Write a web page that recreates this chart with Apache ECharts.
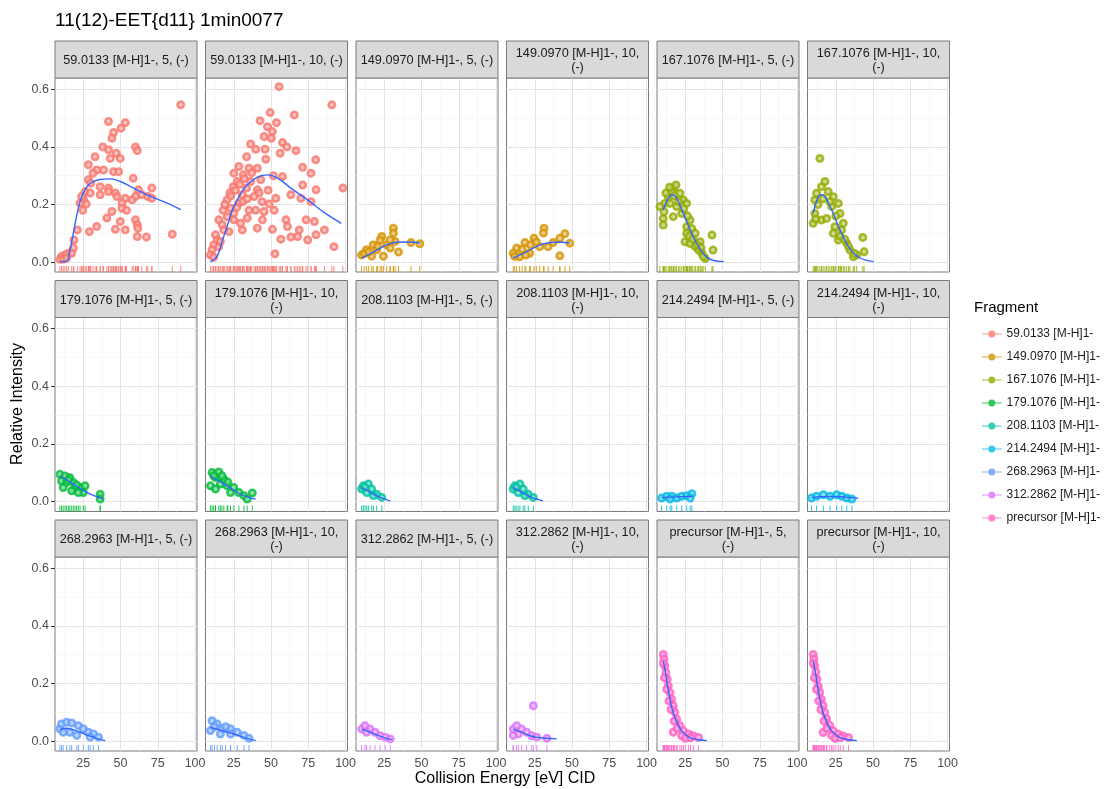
<!DOCTYPE html>
<html>
<head>
<meta charset="utf-8">
<script src="https://cdn.jsdelivr.net/npm/echarts@6/dist/echarts.min.js"></script>
<style>
html, body { margin: 0; padding: 0; background: #fff; }
#chart { width: 1107px; height: 789px; }
</style>
</head>
<body>
<div id="chart"></div>
<script>
// facet data
const fragments = [
  '59.0133 [M-H]1-', '149.0970 [M-H]1-', '167.1076 [M-H]1-', '179.1076 [M-H]1-',
  '208.1103 [M-H]1-', '214.2494 [M-H]1-', '268.2963 [M-H]1-', '312.2862 [M-H]1-',
  'precursor [M-H]1-'
]
const collisionSteps = [5, 10]
const stripLabels = [
  '59.0133 [M-H]1-, 5, (-)', '59.0133 [M-H]1-, 10, (-)',
  '149.0970 [M-H]1-, 5, (-)', '149.0970 [M-H]1-, 10,\n(-)',
  '167.1076 [M-H]1-, 5, (-)', '167.1076 [M-H]1-, 10,\n(-)',
  '179.1076 [M-H]1-, 5, (-)', '179.1076 [M-H]1-, 10,\n(-)',
  '208.1103 [M-H]1-, 5, (-)', '208.1103 [M-H]1-, 10,\n(-)',
  '214.2494 [M-H]1-, 5, (-)', '214.2494 [M-H]1-, 10,\n(-)',
  '268.2963 [M-H]1-, 5, (-)', '268.2963 [M-H]1-, 10,\n(-)',
  '312.2862 [M-H]1-, 5, (-)', '312.2862 [M-H]1-, 10,\n(-)',
  'precursor [M-H]1-, 5,\n(-)', 'precursor [M-H]1-, 10,\n(-)'
]
const xTicks = [25, 50, 75, 100]
const xMinorTicks = [12.5, 37.5, 62.5, 87.5]
const yTicks = [0, 0.2, 0.4, 0.6]
const yMinorTicks = [0.1, 0.3, 0.5]

const points_59_5 = [[90.4,0.546],[41.9,0.488],[53.2,0.484],[50.3,0.465],[45.3,0.45],[44.2,0.43],[60,0.40],[61.2,0.387],[38.1,0.40],[41.9,0.39],[47.1,0.378],[32.9,0.366],[43.1,0.36],[49.8,0.36],[28.4,0.338],[34,0.32],[38.6,0.32],[45.3,0.314],[48.7,0.314],[31.5,0.309],[58.5,0.291],[28.4,0.286],[30,0.274],[36.3,0.262],[41.9,0.257],[41.9,0.245],[46.5,0.24],[26.2,0.245],[29.6,0.24],[71,0.257],[62,0.251],[64.2,0.234],[68.3,0.228],[71,0.222],[60,0.228],[57.7,0.216],[25.2,0.216],[27,0.202],[47.6,0.228],[53.2,0.222],[51,0.205],[36.3,0.234],[24.6,0.18],[44.2,0.176],[51,0.187],[54,0.18],[40.8,0.153],[60,0.147],[49.8,0.141],[61.2,0.13],[61.6,0.118],[34,0.124],[29.1,0.106],[46.5,0.114],[53.2,0.112],[61.2,0.089],[67.4,0.087],[84.7,0.097],[21,0.112],[18.7,0.077],[18.3,0.049],[14.9,0.031],[12.7,0.025],[10.4,0.02],[9.3,0.01],[11.5,0.01],[13.8,0.014],[17.2,0.031],[22.8,0.205],[23.9,0.228]]
const fit_59_5 = [[9.3,0.002],[13.8,0.004],[16,0.04],[18.3,0.1],[20.5,0.16],[22.8,0.21],[25.5,0.245],[28.4,0.268],[32,0.28],[36.3,0.287],[43.1,0.289],[49.8,0.28],[58.8,0.257],[70,0.228],[81.4,0.205],[90.4,0.182]]

const points_59_10 = [[55.4,0.609],[90.8,0.546],[65.6,0.511],[49.4,0.519],[42.6,0.491],[47.6,0.47],[53.6,0.484],[50.9,0.453],[50.2,0.43],[45.3,0.436],[57.7,0.415],[60.6,0.40],[66.7,0.387],[56.1,0.378],[36.3,0.41],[39.7,0.392],[46,0.392],[33.6,0.366],[46.5,0.357],[80,0.355],[28.4,0.332],[35.2,0.326],[40.8,0.326],[71.2,0.329],[76.8,0.309],[25,0.309],[31.3,0.303],[51.6,0.30],[57.7,0.297],[27.3,0.28],[36.3,0.28],[43.1,0.286],[24.6,0.262],[33.6,0.257],[40.8,0.251],[71.2,0.268],[80.2,0.251],[98.2,0.257],[22.3,0.24],[30.7,0.234],[38.6,0.228],[63.3,0.234],[70,0.222],[76.8,0.21],[53.2,0.222],[20.5,0.216],[28.4,0.205],[48.7,0.202],[22.8,0.187],[35.2,0.18],[39.7,0.18],[52.1,0.18],[45.3,0.176],[17.8,0.18],[20.5,0.158],[25,0.147],[34,0.153],[44.2,0.147],[60,0.147],[73.5,0.147],[79.1,0.141],[14.9,0.147],[17.2,0.13],[29.5,0.135],[40.8,0.118],[50.9,0.114],[61,0.124],[68.9,0.112],[85.8,0.112],[21.7,0.106],[30.7,0.112],[56.6,0.08],[63.3,0.087],[67.8,0.089],[74.6,0.077],[80.2,0.095],[92.2,0.054],[52.6,0.029],[12.7,0.095],[13.8,0.077],[11.5,0.06],[10.4,0.043],[9.3,0.025],[11.5,0.017],[14.9,0.054],[16,0.072],[25,0.17],[18.3,0.112],[19,0.2],[23,0.23],[26,0.25],[29,0.27],[32,0.29],[37,0.31],[27,0.19],[31,0.21],[34,0.22],[42,0.24],[44,0.21],[48,0.25]]
const fit_59_10 = [[9.3,0.002],[13.8,0.02],[17,0.07],[20.5,0.124],[24,0.18],[27.3,0.216],[30.5,0.245],[34,0.268],[40.8,0.295],[47.6,0.303],[54.3,0.292],[63.3,0.257],[74.6,0.216],[85.8,0.172],[97.1,0.135]]

const points_149_5 = [[31.1,0.118],[31.1,0.101],[23.3,0.089],[32.2,0.072],[17.6,0.06],[26.6,0.06],[13.1,0.043],[9.7,0.025],[19.9,0.043],[28.9,0.049],[34.5,0.035],[24.4,0.021],[16.5,0.021],[42.9,0.068],[48.8,0.064],[22.2,0.077],[28.9,0.077],[11.5,0.03],[14.5,0.035],[20.5,0.055]]
const fit_149_5 = [[9.7,0.014],[13.5,0.024],[17.6,0.035],[22,0.048],[26.6,0.06],[30,0.066],[33.4,0.069],[40.1,0.07],[45,0.069],[49.1,0.066]]

const points_149_10 = [[31.2,0.118],[30.8,0.101],[24.5,0.083],[18.4,0.068],[12.8,0.049],[10.5,0.031],[45.2,0.099],[41.8,0.083],[48.5,0.066],[41.8,0.022],[28.3,0.054],[33.9,0.054],[21.5,0.031],[14.8,0.019],[37.3,0.068],[16.5,0.045],[22,0.06],[26,0.07],[11.5,0.02],[19,0.025]]
const fit_149_10 = [[10.5,0.014],[15,0.025],[19.5,0.037],[24,0.049],[28.5,0.06],[33,0.066],[37.5,0.069],[43,0.069],[48.5,0.066]]

const points_167_5 = [[10.2,0.129],[10.2,0.152],[10.7,0.175],[11.3,0.204],[13.5,0.227],[16.9,0.256],[18.7,0.268],[15.8,0.245],[21.4,0.239],[23.7,0.216],[25.9,0.204],[19.2,0.193],[22.6,0.169],[16.9,0.158],[28.2,0.146],[25.9,0.123],[29.3,0.117],[31.6,0.1],[25.9,0.1],[24.8,0.071],[28.2,0.065],[31.6,0.054],[33.9,0.042],[36.2,0.031],[38.4,0.013],[42.9,0.094],[43.6,0.042],[34.9,0.071],[8,0.193],[14.7,0.204],[12,0.24],[14.5,0.26],[17.5,0.23],[20.5,0.21],[24,0.185],[26.5,0.16],[27.5,0.09],[30,0.08],[33,0.06],[35.5,0.05],[37,0.02]]
const fit_167_5 = [[10.2,0.181],[12.5,0.212],[15.8,0.233],[17.5,0.232],[19.2,0.222],[21.5,0.196],[23.7,0.169],[26.5,0.134],[29.3,0.1],[32,0.07],[34.9,0.046],[37.5,0.027],[40,0.015],[44,0.006],[50.8,0.002]]

const points_167_10 = [[14.3,0.36],[10.9,0.216],[12.1,0.239],[15.4,0.262],[17.7,0.28],[19.9,0.245],[23.3,0.227],[26.7,0.204],[22.2,0.193],[10.9,0.169],[9.8,0.135],[15.4,0.146],[18.8,0.152],[27.8,0.169],[24.4,0.123],[28.9,0.112],[26.7,0.077],[32.3,0.066],[34.5,0.042],[39,0.025],[43.1,0.086],[44,0.036],[36.7,0.019],[23.3,0.1],[30,0.135],[13,0.2],[16.5,0.22],[21,0.21],[25,0.16],[28,0.09],[31,0.08],[33.5,0.055],[37.5,0.03],[11.5,0.15]]
const fit_167_10 = [[9.8,0.169],[12,0.21],[14.3,0.233],[16,0.234],[17.7,0.227],[20.5,0.2],[23.3,0.169],[26,0.134],[28.9,0.1],[31.7,0.07],[34.5,0.046],[37.3,0.03],[40.1,0.018],[45,0.007],[50.3,0.002]]

const points_179_5 = [[9.3,0.095],[12.7,0.089],[16,0.083],[10.4,0.072],[13.8,0.067],[18.3,0.067],[19.4,0.049],[22.8,0.049],[26.2,0.055],[25,0.032],[11.5,0.049],[17.2,0.038],[36.3,0.026],[36.3,0.009],[21.7,0.032],[15,0.075],[20.5,0.058]]
const fit_179_5 = [[9.3,0.09],[13.8,0.076],[18.3,0.061],[22.8,0.046],[27.3,0.032],[33,0.019],[38.6,0.009]]

const points_179_10 = [[10.4,0.101],[14.9,0.103],[12.7,0.084],[18.3,0.078],[16,0.061],[20.5,0.055],[25,0.049],[22.8,0.032],[28.4,0.032],[31.8,0.021],[37.4,0.03],[34,0.009],[9.3,0.055],[12.7,0.044],[11.5,0.09],[17,0.09],[21,0.068]]
const fit_179_10 = [[9.3,0.09],[15,0.072],[20.5,0.055],[25,0.04],[29.5,0.026],[34.5,0.016],[39.7,0.009]]

const points_208_5 = [[9.8,0.044],[10.9,0.055],[14.3,0.061],[16.5,0.044],[19.9,0.026],[23.3,0.015],[13.2,0.032],[17.7,0.021],[12,0.05]]
const fit_208_5 = [[9.8,0.05],[13.8,0.038],[17.7,0.026],[22,0.016],[26,0.008],[29,0.003]]

const points_208_10 = [[10.5,0.044],[11.6,0.055],[15,0.061],[17.2,0.044],[20.6,0.026],[24,0.015],[13.8,0.032],[18.3,0.021],[12.5,0.05]]
const fit_208_10 = [[10.5,0.05],[14.5,0.038],[18.3,0.026],[22.5,0.016],[27,0.008],[30.5,0.003]]

const points_214_5 = [[9.1,0.013],[12.5,0.019],[15.9,0.019],[19.3,0.013],[22.6,0.019],[26,0.021],[29.4,0.028],[28.3,0.013],[14.8,0.009]]
const fit_214_5 = [[9.1,0.014],[15,0.016],[21,0.017],[26,0.018],[30,0.018]]

const points_214_10 = [[8.7,0.013],[12.1,0.019],[16.6,0.024],[21.1,0.019],[25.6,0.024],[29,0.019],[32.4,0.013],[35.8,0.009]]
const fit_214_10 = [[8.7,0.014],[15,0.017],[22,0.018],[29,0.017],[35,0.014],[40,0.012]]

const points_268_5 = [[9.3,0.043],[10.4,0.06],[13.8,0.066],[17.2,0.063],[21.7,0.054],[25,0.043],[28.4,0.031],[31.8,0.025],[35.2,0.014],[11.5,0.031],[16,0.031],[20.6,0.02],[29.6,0.014]]
const fit_268_5 = [[9.3,0.04],[13.8,0.045],[18,0.04],[22.8,0.031],[27,0.022],[31.8,0.014],[35.5,0.007],[39.7,0.002]]

const points_268_10 = [[10.4,0.071],[13.8,0.06],[17.2,0.043],[22.8,0.043],[27.3,0.031],[31.8,0.02],[35.2,0.01],[9.3,0.037],[16,0.025],[22.8,0.025],[12,0.05],[19.5,0.05]]
const fit_268_10 = [[9.3,0.048],[15,0.04],[20,0.032],[25,0.025],[30,0.016],[35,0.008],[39.7,0.002]]

const points_312_5 = [[9.8,0.042],[12,0.054],[15.4,0.042],[18.8,0.031],[22.2,0.019],[25.6,0.014],[29,0.008],[13.1,0.031]]
const fit_312_5 = [[9.8,0.042],[13.5,0.035],[17,0.028],[19.9,0.022],[24,0.014],[27,0.009],[30,0.006]]

const points_312_10 = [[24,0.123],[10.5,0.042],[12.8,0.054],[16.2,0.042],[19.5,0.031],[22.9,0.019],[26.3,0.014],[33.1,0.01],[13.9,0.025],[10.5,0.02]]
const fit_312_10 = [[10.5,0.042],[14,0.035],[18,0.027],[21.7,0.019],[26,0.014],[30,0.011],[33,0.01],[39.8,0.008]]

const points_pre_5 = [[10.2,0.301],[10.7,0.284],[11.3,0.261],[12,0.238],[12.9,0.215],[13.6,0.192],[14.7,0.169],[15.8,0.146],[16.9,0.123],[18,0.1],[19.2,0.077],[21.4,0.054],[23.7,0.036],[27.1,0.025],[30.4,0.019],[33.8,0.013],[22.6,0.019],[16.9,0.031],[10.2,0.27],[11,0.22],[12.5,0.18],[14,0.14],[15.5,0.11],[17.5,0.07],[19.5,0.045],[25,0.01],[28.5,0.012]]
const fit_pre_5 = [[10.2,0.278],[11.5,0.245],[13,0.195],[14.7,0.146],[16.5,0.105],[19.2,0.067],[22,0.04],[25.9,0.02],[29,0.011],[32.7,0.006],[39.5,0.002]]

const points_pre_10 = [[9.8,0.301],[10.3,0.285],[10.9,0.262],[11.6,0.24],[12.4,0.215],[13.2,0.19],[14.2,0.17],[15.3,0.146],[16.4,0.124],[17.6,0.1],[18.8,0.078],[20.9,0.055],[23.2,0.036],[26.6,0.025],[30,0.018],[33.5,0.013],[22.2,0.02],[16.5,0.03],[9.8,0.27],[10.6,0.22],[12,0.18],[13.5,0.14],[15,0.11],[17,0.07],[19,0.045],[24.5,0.01],[28,0.012]]
const fit_pre_10 = [[9.8,0.278],[11.1,0.245],[12.6,0.195],[14.3,0.146],[16.1,0.105],[18.8,0.067],[21.6,0.04],[25.5,0.02],[28.6,0.011],[32.3,0.006],[39.1,0.002]]

const panelPoints = [
  points_59_5, points_59_10, points_149_5, points_149_10, points_167_5, points_167_10,
  points_179_5, points_179_10, points_208_5, points_208_10, points_214_5, points_214_10,
  points_268_5, points_268_10, points_312_5, points_312_10, points_pre_5, points_pre_10
]
const panelFits = [
  fit_59_5, fit_59_10, fit_149_5, fit_149_10, fit_167_5, fit_167_10,
  fit_179_5, fit_179_10, fit_208_5, fit_208_10, fit_214_5, fit_214_10,
  fit_268_5, fit_268_10, fit_312_5, fit_312_10, fit_pre_5, fit_pre_10
]

// ggplot hue palette
const palette = ['#F8766D', '#D39200', '#93AA00', '#00BA38', '#00C19F', '#00B9E3', '#619CFF', '#DB72FB', '#FF61C3']

const xMin = 6, xMax = 101.3
const yMin = -0.034, yMax = 0.639

const colLeft = [55, 205.5, 356, 506.5, 657, 807.5]
const rowTop = [41, 280.5, 520]
const panelW = 142
const stripH = 37
const panelH = 194
const font = 'Liberation Sans'

function tint(hex, k) {
  const n = parseInt(hex.slice(1), 16)
  const r = (n >> 16) & 255, g = (n >> 8) & 255, b = n & 255
  const m = v => Math.round(v + (255 - v) * k)
  return `rgb(${m(r)},${m(g)},${m(b)})`
}

const grids = [], xAxes = [], yAxes = [], series = [], graphics = []

panelPoints.forEach((pts, i) => {
  const f = Math.floor(i / collisionSteps.length)
  const col = i % 6
  const row = Math.floor(i / 6)
  const color = palette[f]
  const top = rowTop[row] + stripH

  grids.push({
    left: colLeft[col], top: top, width: panelW, height: panelH,
    show: true, backgroundColor: '#fff', borderColor: '#7a7a7a', borderWidth: 1
  })
  xAxes.push({
    type: 'value', gridIndex: i, min: xMin, max: xMax,
    axisLine: { show: false },
    splitLine: { show: false },
    axisTick: { show: row === 2, customValues: xTicks, length: 4, lineStyle: { color: '#333' } },
    axisLabel: { show: row === 2, customValues: xTicks, color: '#4d4d4d', fontSize: 12.5, margin: 6, fontFamily: font }
  })
  yAxes.push({
    type: 'value', gridIndex: i, min: yMin, max: yMax,
    axisLine: { show: false },
    splitLine: { show: false },
    axisTick: { show: col === 0, customValues: yTicks, length: 4, lineStyle: { color: '#333' } },
    axisLabel: {
      show: col === 0, customValues: yTicks, color: '#4d4d4d', fontSize: 12.5, margin: 6,
      fontFamily: font, formatter: v => v.toFixed(1)
    }
  })

  const gridLines = []
  xMinorTicks.forEach(v => gridLines.push({ xAxis: v, lineStyle: { color: '#f3f3f3', width: 0.6, type: 'solid' } }))
  yMinorTicks.forEach(v => gridLines.push({ yAxis: v, lineStyle: { color: '#f3f3f3', width: 0.6, type: 'solid' } }))
  xTicks.forEach(v => gridLines.push({ xAxis: v, lineStyle: { color: '#e4e4e4', width: 1, type: 'solid' } }))
  yTicks.forEach(v => gridLines.push({ yAxis: v, lineStyle: { color: '#e4e4e4', width: 1, type: 'solid' } }))

  // rug along the bottom of each panel
  series.push({
    type: 'scatter', xAxisIndex: i, yAxisIndex: i, silent: true, z: 2,
    symbol: 'rect', symbolSize: [1, 6], symbolOffset: [0, -3],
    itemStyle: { color: color, opacity: 0.85 },
    data: pts.map(p => [p[0], yMin]),
    markLine: {
      silent: true, symbol: 'none', z: 1, animation: false,
      label: { show: false }, emphasis: { disabled: true },
      data: gridLines
    }
  })
  series.push({
    type: 'scatter', name: fragments[f], xAxisIndex: i, yAxisIndex: i, z: 3,
    symbol: 'circle', symbolSize: 6.5,
    itemStyle: { color: tint(color, 0.45), borderColor: color, borderWidth: 2.5 },
    data: pts
  })
  series.push({
    type: 'line', name: 'fit', xAxisIndex: i, yAxisIndex: i, z: 4,
    smooth: 0.4, showSymbol: false, silent: true,
    lineStyle: { color: '#3366FF', width: 1.4 },
    data: panelFits[i]
  })

  graphics.push({
    type: 'rect', z: 10,
    shape: { x: colLeft[col], y: rowTop[row], width: panelW, height: stripH },
    style: { fill: '#d9d9d9', stroke: '#7a7a7a', lineWidth: 1 }
  })
  graphics.push({
    type: 'text', z: 11,
    x: colLeft[col] + panelW / 2, y: rowTop[row] + stripH / 2 + 1,
    style: {
      text: stripLabels[i], fill: '#1a1a1a', fontSize: 12.7, fontFamily: font,
      align: 'center', verticalAlign: 'middle', lineHeight: 14
    }
  })
})

graphics.push({
  type: 'text', x: 55, y: 21,
  style: { text: '11(12)-EET{d11} 1min0077', fill: '#000', fontSize: 19, fontFamily: font, verticalAlign: 'middle' }
})
graphics.push({
  type: 'text', x: 505, y: 779,
  style: { text: 'Collision Energy [eV] CID', fill: '#000', fontSize: 16, fontFamily: font, align: 'center', verticalAlign: 'middle' }
})
graphics.push({
  type: 'text', x: 18, y: 404, rotation: Math.PI / 2,
  style: { text: 'Relative Intensity', fill: '#000', fontSize: 16, fontFamily: font, align: 'center', verticalAlign: 'middle' }
})
graphics.push({
  type: 'text', x: 974, y: 308,
  style: { text: 'Fragment', fill: '#000', fontSize: 15, fontFamily: font, verticalAlign: 'middle' }
})

const keyIcon = 'path://M0,4.4H28V5.6H0Z M9,5A5,5,0,1,1,19,5A5,5,0,1,1,9,5Z'

const chart = echarts.init(document.getElementById('chart'))
chart.setOption({
  animation: false,
  backgroundColor: '#fff',
  grid: grids,
  xAxis: xAxes,
  yAxis: yAxes,
  legend: {
    orient: 'vertical', left: 977, top: 323, selectedMode: false,
    itemWidth: 19.6, itemHeight: 7, itemGap: 11,
    textStyle: { color: '#1a1a1a', fontSize: 12, fontFamily: font },
    data: fragments.map((name, k) => ({ name: name, icon: keyIcon, itemStyle: { color: palette[k], borderWidth: 0 } }))
  },
  graphic: graphics,
  series: series
})
</script>
</body>
</html>
